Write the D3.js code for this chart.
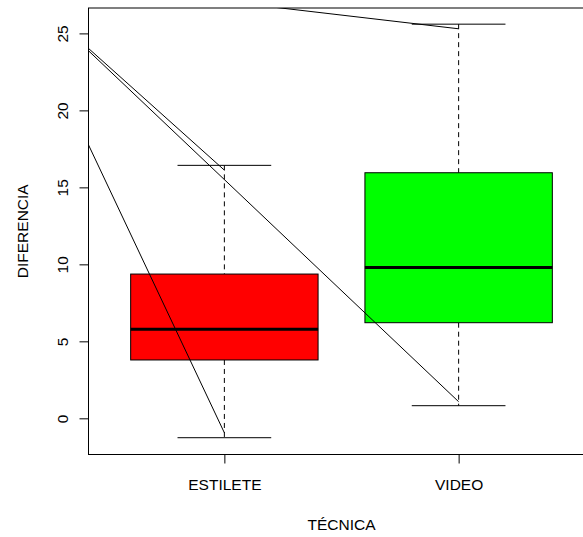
<!DOCTYPE html>
<html>
<head>
<meta charset="utf-8">
<script src="https://cdn.jsdelivr.net/npm/d3@7"></script>
<style>
  html, body { margin: 0; padding: 0; background: #fff; }
  svg { display: block; }
</style>
</head>
<body>
<div id="chart"></div>
<script>
// box statistics per technique
const categories = ['ESTILETE', 'VIDEO'];
const lowerWhisker = [-1.26, 0.82];
const q1 = [3.79, 6.21];
const median = [5.78, 9.8];
const q3 = [9.37, 15.95];
const upperWhisker = [16.43, 25.6];
const boxColors = ['#ff0000', '#00ff00'];
const yTicks = [0, 5, 10, 15, 20, 25];

// straight lines drawn on top of the boxes (x is the category position)
const lineStartX = [0, 0, 0, 0];
const lineStartY = [31.3, 29.75, 29.93, 28.86];
const lineEndX = [1, 1, 2, 2];
const lineEndY = [-0.94, 16.12, 1.08, 25.3];

const W = 583, H = 537;
const plot = { left: 88.5, right: 594.5, top: 8, bottom: 454.5 };
const font = '"Liberation Sans", Arial, sans-serif';

const svg = d3.select('#chart')
  .append('svg')
  .attr('width', W)
  .attr('height', H);

const x = d3.scaleLinear()
  .domain([0.42, 2.58])
  .range([plot.left, plot.right]);

const y = d3.scaleLinear()
  .domain([-2.35, 26.65])
  .range([plot.bottom, plot.top]);

const boxHalf = 0.4, capHalf = 0.2;

svg.append('defs').append('clipPath')
  .attr('id', 'plot-clip')
  .append('rect')
  .attr('x', plot.left)
  .attr('y', plot.top)
  .attr('width', plot.right - plot.left)
  .attr('height', plot.bottom - plot.top);

const g = svg.append('g');

categories.forEach((c, i) => {
  const cx = x(i + 1);

  // whiskers (dashed)
  g.append('line')
    .attr('x1', cx).attr('x2', cx)
    .attr('y1', y(upperWhisker[i])).attr('y2', y(q3[i]))
    .attr('stroke', '#000').attr('stroke-dasharray', '5,4');
  g.append('line')
    .attr('x1', cx).attr('x2', cx)
    .attr('y1', y(q1[i])).attr('y2', y(lowerWhisker[i]))
    .attr('stroke', '#000').attr('stroke-dasharray', '5,4');

  // staples
  [upperWhisker[i], lowerWhisker[i]].forEach(v => {
    g.append('line')
      .attr('x1', x(i + 1 - capHalf)).attr('x2', x(i + 1 + capHalf))
      .attr('y1', y(v)).attr('y2', y(v))
      .attr('stroke', '#000');
  });

  // box
  g.append('rect')
    .attr('x', x(i + 1 - boxHalf))
    .attr('y', y(q3[i]))
    .attr('width', x(i + 1 + boxHalf) - x(i + 1 - boxHalf))
    .attr('height', y(q1[i]) - y(q3[i]))
    .attr('fill', boxColors[i])
    .attr('stroke', '#000')
    .attr('stroke-width', 1);

  // median
  g.append('line')
    .attr('x1', x(i + 1 - boxHalf)).attr('x2', x(i + 1 + boxHalf))
    .attr('y1', y(median[i])).attr('y2', y(median[i]))
    .attr('stroke', '#000').attr('stroke-width', 3);
});

// overlay lines, clipped to the plot region
const lines = svg.append('g').attr('clip-path', 'url(#plot-clip)');
lineStartX.forEach((sx, i) => {
  lines.append('line')
    .attr('x1', x(sx)).attr('y1', y(lineStartY[i]))
    .attr('x2', x(lineEndX[i])).attr('y2', y(lineEndY[i]))
    .attr('stroke', '#000')
    .attr('stroke-width', 1);
});

// frame
svg.append('rect')
  .attr('x', plot.left)
  .attr('y', plot.top)
  .attr('width', plot.right - plot.left)
  .attr('height', plot.bottom - plot.top)
  .attr('fill', 'none')
  .attr('stroke', '#000')
  .attr('stroke-width', 1);

// Y axis
const yAxis = svg.append('g')
  .attr('transform', `translate(${plot.left},0)`)
  .call(d3.axisLeft(y).tickValues(yTicks).tickSize(9).tickPadding(4).tickFormat(d3.format('d')));
yAxis.select('.domain').remove();
yAxis.selectAll('.tick line').attr('stroke', '#000');
yAxis.selectAll('.tick text')
  .attr('x', null).attr('dy', null)
  .attr('transform', 'translate(-21,0) rotate(-90)')
  .attr('text-anchor', 'middle')
  .attr('fill', '#000')
  .style('font-family', font)
  .style('font-size', '15.5px');

// X axis
const xAxis = svg.append('g')
  .attr('transform', `translate(0,${plot.bottom})`)
  .call(d3.axisBottom(x).tickValues([1, 2]).tickSize(9).tickFormat(d => categories[d - 1]));
xAxis.select('.domain').remove();
xAxis.selectAll('.tick line').attr('stroke', '#000');
xAxis.selectAll('.tick text')
  .attr('y', 35.5).attr('dy', null)
  .attr('fill', '#000')
  .style('font-family', font)
  .style('font-size', '15.5px');

// axis titles
svg.append('text')
  .attr('transform', `translate(28,${(plot.top + plot.bottom) / 2}) rotate(-90)`)
  .attr('text-anchor', 'middle')
  .style('font-family', font)
  .style('font-size', '15.5px')
  .text('DIFERENCIA');

svg.append('text')
  .attr('x', (plot.left + plot.right) / 2)
  .attr('y', 530)
  .attr('text-anchor', 'middle')
  .style('font-family', font)
  .style('font-size', '15.5px')
  .text('TÉCNICA');
</script>
</body>
</html>
